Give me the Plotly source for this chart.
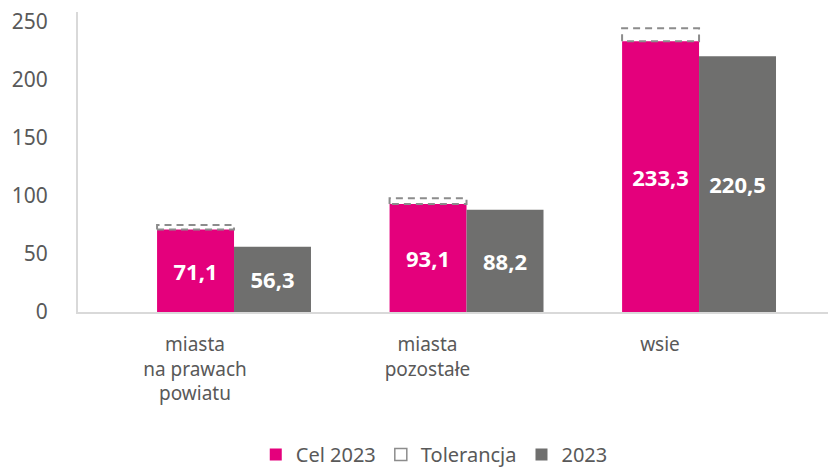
import plotly.graph_objects as go

categories = ["miasta<br>na prawach<br>powiatu", "miasta<br>pozostałe", "wsie"]
cel_2023 = [71.1, 93.1, 233.3]
tolerance_top = [75.0, 98.0, 244.5]
actual_2023 = [56.3, 88.2, 220.5]
y_ticks = [0, 50, 100, 150, 200, 250]

PINK = "#E4007C"
GRAY = "#6F6F6E"
TXT = "#595959"
FONT = "Noto Sans"

xs = list(range(len(categories)))
bw = 0.331
off_pink = -0.163
off_gray = off_pink + bw

fig = go.Figure()

fig.add_trace(go.Bar(
    x=xs, y=cel_2023, name="Cel 2023", width=bw, offset=off_pink,
    marker=dict(color=PINK, line=dict(width=0)),
    text=[f"{v:.1f}".replace(".", ",") for v in cel_2023],
    textposition="inside", insidetextanchor="middle",
    textfont=dict(color="white", size=22, family=FONT, weight="bold"),
    legendrank=1,
))
fig.add_trace(go.Bar(
    x=xs, y=actual_2023, name="2023", width=bw, offset=off_gray,
    marker=dict(color=GRAY, line=dict(width=0)),
    text=[f"{v:.1f}".replace(".", ",") for v in actual_2023],
    textposition="inside", insidetextanchor="middle",
    textfont=dict(color="white", size=22, family=FONT, weight="bold"),
    legendrank=3,
))

# tolerance boxes
tx, ty = [], []
for i, (lo, hi) in enumerate(zip(cel_2023, tolerance_top)):
    x0 = i + off_pink
    x1 = x0 + bw
    tx += [x0, x0, x1, x1, x0, None]
    ty += [lo, hi, hi, lo, lo, None]
fig.add_trace(go.Scatter(
    x=tx, y=ty, mode="lines", showlegend=False, hoverinfo="skip",
    line=dict(color="#8C8C8C", width=2, dash="7px,5px"),
))
fig.add_trace(go.Scatter(
    x=[None], y=[None], mode="markers", name="Tolerancja",
    marker=dict(symbol="square-open", size=12, color="#8C8C8C", line=dict(width=1.5)),
    legendrank=2,
))

# page body has an 8px margin: figure is offset by 8px right/down
fig.update_layout(
    width=828, height=459,
    margin=dict(l=70, r=0, t=4, b=155, autoexpand=False),
    plot_bgcolor="white", paper_bgcolor="white",
    barmode="overlay",
    font=dict(family=FONT, color=TXT, size=18),
    showlegend=True,
    legend=dict(orientation="h", x=0.47, xanchor="center",
                y=-0.475, yanchor="middle",
                font=dict(size=20, color=TXT, family=FONT),
                traceorder="normal"),
    xaxis=dict(range=[-0.503, 2.757], tickmode="array", tickvals=xs, ticktext=categories,
               showgrid=False, zeroline=False, showline=True, linecolor="#D9D9D9", linewidth=2,
               ticks="", tickfont=dict(size=19, color=TXT), ticklabelstandoff=14),
    yaxis=dict(range=[0, 258.6], tickmode="array", tickvals=y_ticks,
               showgrid=False, zeroline=False, showline=True, linecolor="#D9D9D9", linewidth=2,
               ticks="", tickfont=dict(size=21, color=TXT), ticklabelstandoff=24,
               ticklabeloverflow="allow"),
)

fig.write_html("out.html")
